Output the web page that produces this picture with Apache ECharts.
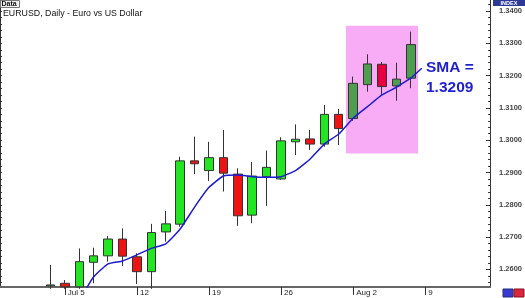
<!DOCTYPE html>
<html><head><meta charset="utf-8">
<script src="https://cdn.jsdelivr.net/npm/echarts@6/dist/echarts.min.js"></script>
<style>html,body{margin:0;padding:0;background:#fff}#c{width:525px;height:298px}</style>
</head><body><div id="c"></div>
<script>
// ---- data ----
const dates = ['Jun 29','Jun 30','Jul 1','Jul 2',
  'Jul 5','Jul 6','Jul 7','Jul 8','Jul 9',
  'Jul 12','Jul 13','Jul 14','Jul 15','Jul 16',
  'Jul 19','Jul 20','Jul 21','Jul 22','Jul 23',
  'Jul 26','Jul 27','Jul 28','Jul 29','Jul 30',
  'Aug 2','Aug 3','Aug 4','Aug 5','Aug 6',
  'Aug 9','Aug 10','Aug 11','Aug 12','Aug 13'];
const weekLabels = {'Jul 5':'Jul 5','Jul 12':'12','Jul 19':'19','Jul 26':'26','Aug 2':'Aug 2','Aug 9':'9'};
const opens  = [null,null,null,1.2549, 1.2557,1.2546,1.2622,1.2642,1.2694, 1.2639,1.2593,1.2716,1.2740,1.2936, 1.2906,1.2946,1.2895,1.2768,1.2887, 1.2880,1.2995,1.3004,1.2988,1.3080, 1.3067,1.3172,1.3235,1.3168,1.3192, null,null,null,null,null];
const closes = [null,null,null,1.2552, 1.2546,1.2624,1.2642,1.2694,1.2641, 1.2593,1.2714,1.2741,1.2936,1.2927, 1.2946,1.2898,1.2766,1.2889,1.2916, 1.2998,1.3003,1.2988,1.3080,1.3036, 1.3176,1.3236,1.3166,1.3189,1.3296, null,null,null,null,null];
const lows   = [null,null,null,1.2540, 1.2540,1.2540,1.2557,1.2624,1.2611, 1.2555,1.2540,1.2686,1.2732,1.2895, 1.2874,1.2841,1.2735,1.2743,1.2797, 1.2877,1.2954,1.2970,1.2980,1.2985, 1.3060,1.3150,1.3140,1.3122,1.3161, null,null,null,null,null];
const highs  = [null,null,null,1.2614, 1.2567,1.2665,1.2667,1.2703,1.2727, 1.2650,1.2741,1.2781,1.2949,1.3011, 1.2995,1.3032,1.2913,1.2933,1.2968, 1.3009,1.3049,1.3032,1.3109,1.3097, 1.3197,1.3266,1.3242,1.3240,1.3336, null,null,null,null,null];
const sma    = [null,null,null,null, null,1.2503,1.2577,1.2617,1.2626, 1.2645,1.2665,1.2679,1.2725,1.2793, 1.2854,1.2889,1.2892,1.2887,1.2885, 1.2887,1.2906,1.2941,1.2988,1.3019, 1.3068,1.3104,1.3140,1.3164,1.3192, null,null,null,null,null];
const priceTicks = [1.26,1.27,1.28,1.29,1.30,1.31,1.32,1.33,1.34];
const boxFrom = 'Aug 2', boxTo = 'Aug 6', boxHigh = 1.3354, boxLow = 1.2959;
const smaText = 'SMA =\n1.3209';
const titleText = 'EURUSD, Daily - Euro vs US Dollar';

// ---- chart ----
const yMax = 1.343406, yMin = 1.254552;
const minorTicks = [];
for (let v = 1.256; v <= 1.343; v += 0.002) minorTicks.push(+v.toFixed(3));
const iFrom = dates.indexOf(boxFrom), iTo = dates.indexOf(boxTo);
const candleData = dates.map((d, i) => {
  if (opens[i] == null) return '-';
  const item = {value: [opens[i], closes[i], lows[i], highs[i]]};
  if (i >= iFrom && i <= iTo) {
    const c = closes[i] >= opens[i] ? '#4f9d4f' : '#e4003f';
    item.itemStyle = {color: c, color0: c, borderColor: '#333', borderColor0: '#333'};
  }
  return item;
});
const font = '"Liberation Sans", Arial, sans-serif';
const chart = echarts.init(document.getElementById('c'));
const isWeek = (i) => !!weekLabels[dates[i]];
chart.setOption({
  animation: false,
  backgroundColor: '#fff',
  grid: {left: 0, top: 0, width: 491, bottom: 11, containLabel: false},
  xAxis: {
    type: 'category', data: dates, boundaryGap: true,
    axisLine: {lineStyle: {color: '#666', width: 2}},
    axisTick: {show: true, alignWithLabel: true, interval: (i) => isWeek(i), length: 8, lineStyle: {color: '#333'}},
    axisLabel: {interval: (i) => isWeek(i), formatter: (v) => weekLabels[v] || '', align: 'left', margin: 2, padding: [0,0,0,3], fontSize: 8, color: '#222', fontFamily: font},
    splitLine: {show: false}
  },
  yAxis: [
    {type: 'value', position: 'right', min: yMin, max: yMax, scale: true,
      axisLine: {show: true, lineStyle: {color: '#333', width: 1}},
      axisTick: {show: true, inside: true, length: 4, customValues: priceTicks, lineStyle: {color: '#333'}},
      axisLabel: {show: true, customValues: priceTicks, formatter: (v) => v.toFixed(4), margin: 9, fontSize: 7.5, fontWeight: 'bold', color: '#444', fontFamily: font},
      splitLine: {show: false}},
    {type: 'value', position: 'right', min: yMin, max: yMax, scale: true,
      axisLine: {show: false},
      axisTick: {show: true, inside: true, length: 2, customValues: minorTicks, lineStyle: {color: '#333'}},
      axisLabel: {show: false}, splitLine: {show: false}},
    {type: 'value', position: 'left', min: yMin, max: yMax, scale: true,
      axisLine: {show: true, lineStyle: {color: '#333', width: 1}},
      axisTick: {show: true, inside: true, length: 2, customValues: minorTicks, lineStyle: {color: '#333'}},
      axisLabel: {show: false}, splitLine: {show: false}}
  ],
  series: [
    {type: 'candlestick', data: candleData, barWidth: 9, z: 3,
      itemStyle: {color: '#22e622', color0: '#ee1414', borderColor: '#333', borderColor0: '#333', borderWidth: 1}},
    {type: 'line', data: sma, symbol: 'none', showSymbol: false, smooth: 0.15, z: 4, clip: true,
      lineStyle: {color: '#1c1cd0', width: 1.5}}
  ],
  graphic: [
    {id: 'dataBox', type: 'rect', shape: {x: 0.5, y: 0.5, width: 19, height: 7}, style: {fill: '#f0f0f0', stroke: '#777', lineWidth: 1}, z: 10},
    {id: 'dataTxt', type: 'text', x: 1.5, y: 0.5, style: {text: 'Data', font: 'bold 7px ' + font, fill: '#111'}, z: 11},
    {id: 'title', type: 'text', x: 3, y: 9, style: {text: titleText, font: '8.8px ' + font, fill: '#111'}, z: 11},
    {id: 'idxBox', type: 'rect', shape: {x: 493, y: 0, width: 32, height: 6}, style: {fill: '#2c3a96'}, z: 10},
    {id: 'idxTxt', type: 'text', x: 509, y: 0.3, style: {text: 'INDEX', font: 'bold 5.5px ' + font, fill: '#fff', align: 'center'}, z: 11},
    {id: 'ic1', type: 'rect', shape: {x: 503, y: 289, width: 10, height: 8}, style: {fill: '#3a3ad0', stroke: '#222a80'}, z: 10},
    {id: 'ic2', type: 'rect', shape: {x: 514, y: 289, width: 10, height: 8}, style: {fill: '#d8283c', stroke: '#8a1020'}, z: 10},
    {id: 'smaTxt', type: 'text', x: 426, y: 58, style: {text: smaText, font: 'bold 15.5px ' + font, fill: '#1f1fd2', lineHeight: 20}, z: 11}
  ]
});
// highlight box and pointer, positioned through the axes
const p0 = chart.convertToPixel({gridIndex: 0}, [boxFrom, boxHigh]);
const p1 = chart.convertToPixel({gridIndex: 0}, [boxTo, boxLow]);
const band = chart.convertToPixel({gridIndex: 0}, [dates[1], boxLow])[0] - chart.convertToPixel({gridIndex: 0}, [dates[0], boxLow])[0];
const lastIdx = iTo;
const ps = chart.convertToPixel({gridIndex: 0}, [dates[lastIdx], sma[lastIdx]]);
chart.setOption({graphic: [
  {id: 'hl', type: 'rect', shape: {x: p0[0] - band / 2, y: p0[1], width: (p1[0] - p0[0]) + band, height: p1[1] - p0[1]}, style: {fill: '#f7acf5'}, z: 1},
  {id: 'ptr', type: 'polyline', shape: {points: [ps, [ps[0] + 11, ps[1] - 10]]}, style: {stroke: '#1c1cd0', lineWidth: 1.5, fill: null}, z: 4}
]});
</script></body></html>
